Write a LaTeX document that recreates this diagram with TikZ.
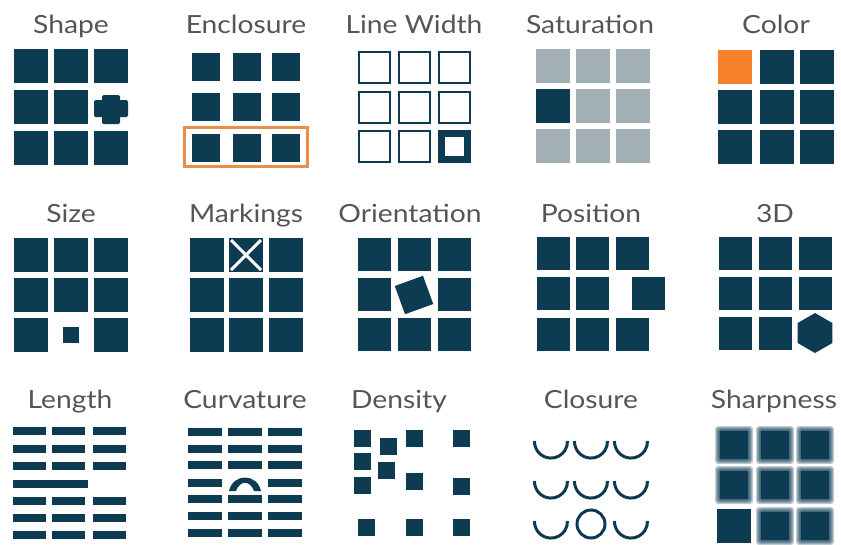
\documentclass[tikz,border=0pt]{standalone}
\usepackage{fontspec}
\setmainfont{Lato}[FakeStretch=1.13]
\usetikzlibrary{positioning}
\definecolor{vvNavy}{HTML}{0C3B52}
\definecolor{vvOrange}{HTML}{F5822A}
\definecolor{vvFrame}{HTML}{E98F48}
\definecolor{vvGrey}{HTML}{A2B0B5}
\definecolor{vvInk}{HTML}{555555}
\tikzset{
	lbl/.style={anchor=base,text=vvInk,font=\fontsize{25}{30}\selectfont},
	cell/.style={fill=vvNavy},
}

\begin{document}
\begin{tikzpicture}[x=1pt,y=-1pt]
	\useasboundingbox (0,0) rectangle (841,544);
	% labels
	\node[lbl] (shape)  at (71,33)  {Shape};
	\node[lbl] (encl)   at (246,33) {Enclosure};
	\node[lbl] (lwidth) at (414,33) {Line Width};
	\node[lbl] (satur)  at (590,33) {Saturation};
	\node[lbl] (color)  at (776,33) {Color};
	\node[lbl] (size)   at (71,222)  {Size};
	\node[lbl] (mark)   at (246,222) {Markings};
	\node[lbl] (orient) at (410,222) {Orientation};
	\node[lbl] (posit)  at (591,222) {Position};
	\node[lbl] (three)  at (775,222) {3D};
	\node[lbl] (length) at (70,408)  {Length};
	\node[lbl] (curv)   at (245,408) {Curvature};
	\node[lbl] (dens)   at (399,408) {Density};
	\node[lbl] (closure) at (591,408) {Closure};
	\node[lbl] (sharp)  at (774,408) {Sharpness};

	% shape
	\foreach \xx/\yy in {14/49,54/49,94/49,14/90,54/90,14/131,54/131,94/131}
		\fill[cell] (\xx,\yy) rectangle +(34,34);
	\fill[cell,rounded corners=1.5pt] (102,95) rectangle (120,124);
	\fill[cell,rounded corners=1.5pt] (94,100) rectangle (128,117);

	% enclosure
	\foreach \xx in {192,233,272}
		\foreach \yy in {53,93,134}
			\fill[cell] (\xx,\yy) rectangle +(28,28);
	\draw[vvFrame,line width=3pt] (184.5,127.5) rectangle (307.5,166.5);

	% line width
	\foreach \xx/\yy in {358/51,398/51,438/51,358/91,398/91,438/91,358/130,398/130}
		\draw[vvNavy,line width=2pt] (\xx+1,\yy+1) rectangle +(31,31);
	\draw[vvNavy,line width=7pt] (441.5,133.5) rectangle +(26,26);

	% saturation
	\foreach \xx/\yy in {536/49,576/49,616/49,576/89,616/89,536/129,576/129,616/129}
		\fill[vvGrey] (\xx,\yy) rectangle +(33.5,33.5);
	\fill[cell] (536,89) rectangle +(33.5,33.5);

	% color
	\foreach \xx/\yy in {760/50,800/50,718/90,760/90,800/90,718/130,760/130,800/130}
		\fill[cell] (\xx,\yy) rectangle +(34,34);
	\fill[vvOrange] (718,50) rectangle +(34,34);

	% size
	\foreach \xx/\yy in {14/238,54/238,94/238,14/278,54/278,94/278,14/318,94/318}
		\fill[cell] (\xx,\yy) rectangle +(34,34);
	\fill[cell] (63,327) rectangle +(16,16);

	% markings
	\foreach \xx in {190,229,269}
		\foreach \yy in {238,278,318}
			\fill[cell] (\xx,\yy) rectangle +(34,34);
	\draw[white,line width=3pt] (231,240) -- (261,270) (261,240) -- (231,270);

	% orientation
	\foreach \xx/\yy in {358/238,398/238,438/238,358/278,438/278,358/318,398/318,438/318}
		\fill[cell] (\xx,\yy) rectangle +(33,33);
	\node[cell,minimum size=30pt,inner sep=0pt,rotate=20] (tilt) at (414,295) {};

	% position
	\foreach \xx/\yy in {537/237,576/237,616/237,537/277,576/277,537/318,576/318,616/318}
		\fill[cell] (\xx,\yy) rectangle +(33,33);
	\fill[cell] (632,277) rectangle +(33,33);

	% 3d
	\foreach \xx/\yy in {719/237,759/237,799/237,719/277,759/277,799/277,719/317,759/317}
		\fill[cell] (\xx,\yy) rectangle +(33,33);
	\fill[cell] (815,313) -- (832.3,323) -- (832.3,343) -- (815,353)
		-- (797.7,343) -- (797.7,323) -- cycle;

	% length
	\foreach \yy in {431,448.5,466,501,518,535}
		\foreach \xx in {13,52,93}
			\fill[cell] (\xx,\yy-4) rectangle +(33,8);
	\fill[cell] (13,479.5) rectangle (88,487.5);

	% curvature
	\foreach \yy in {432,448.5,465,499,516,533}
		\foreach \xx in {188,228,268}
			\fill[cell] (\xx,\yy-4) rectangle +(34,8);
	\foreach \xx in {188,268}
		\fill[cell] (\xx,479) rectangle +(34,8);
	\fill[cell] (229,491) .. controls (233,473) and (257,473) .. (261,491)
		-- (254,491) .. controls (250,480) and (240,480) .. (236,491) -- cycle;

	% density
	\foreach \xx/\yy in {354/430,380/438,406/430,453/430,354/453,378/462,354/477,406/473,453/478,358/519,406/519,453/519}
		\fill[cell] (\xx,\yy) rectangle +(16.5,16.5);

	% closure
	\foreach \cx/\cy in {551/442,591/442,631/442,551/482,591/482,631/482,551/522,631/522}
		\draw[vvNavy,line width=3pt] (\cx-16.5,\cy-1) arc[start angle=178,end angle=362,radius=16.5pt];
	\draw[vvNavy,line width=3pt] (591,524) circle (14pt);

	% sharpness
	\fill[cell] (717,509) rectangle +(34,34);
	\foreach \xx/\yy in {717/428,758/428,798/428,717/468,758/468,798/468,758/509,798/509}{
		\fill[cell] (\xx+3,\yy+3) rectangle +(28,28);
		\foreach \e in {-2,...,2}
			\fill[cell,opacity=0.25,rounded corners=3pt] (\xx-\e,\yy-\e) rectangle +(34+2*\e,34+2*\e);
	}
\end{tikzpicture}
\end{document}
